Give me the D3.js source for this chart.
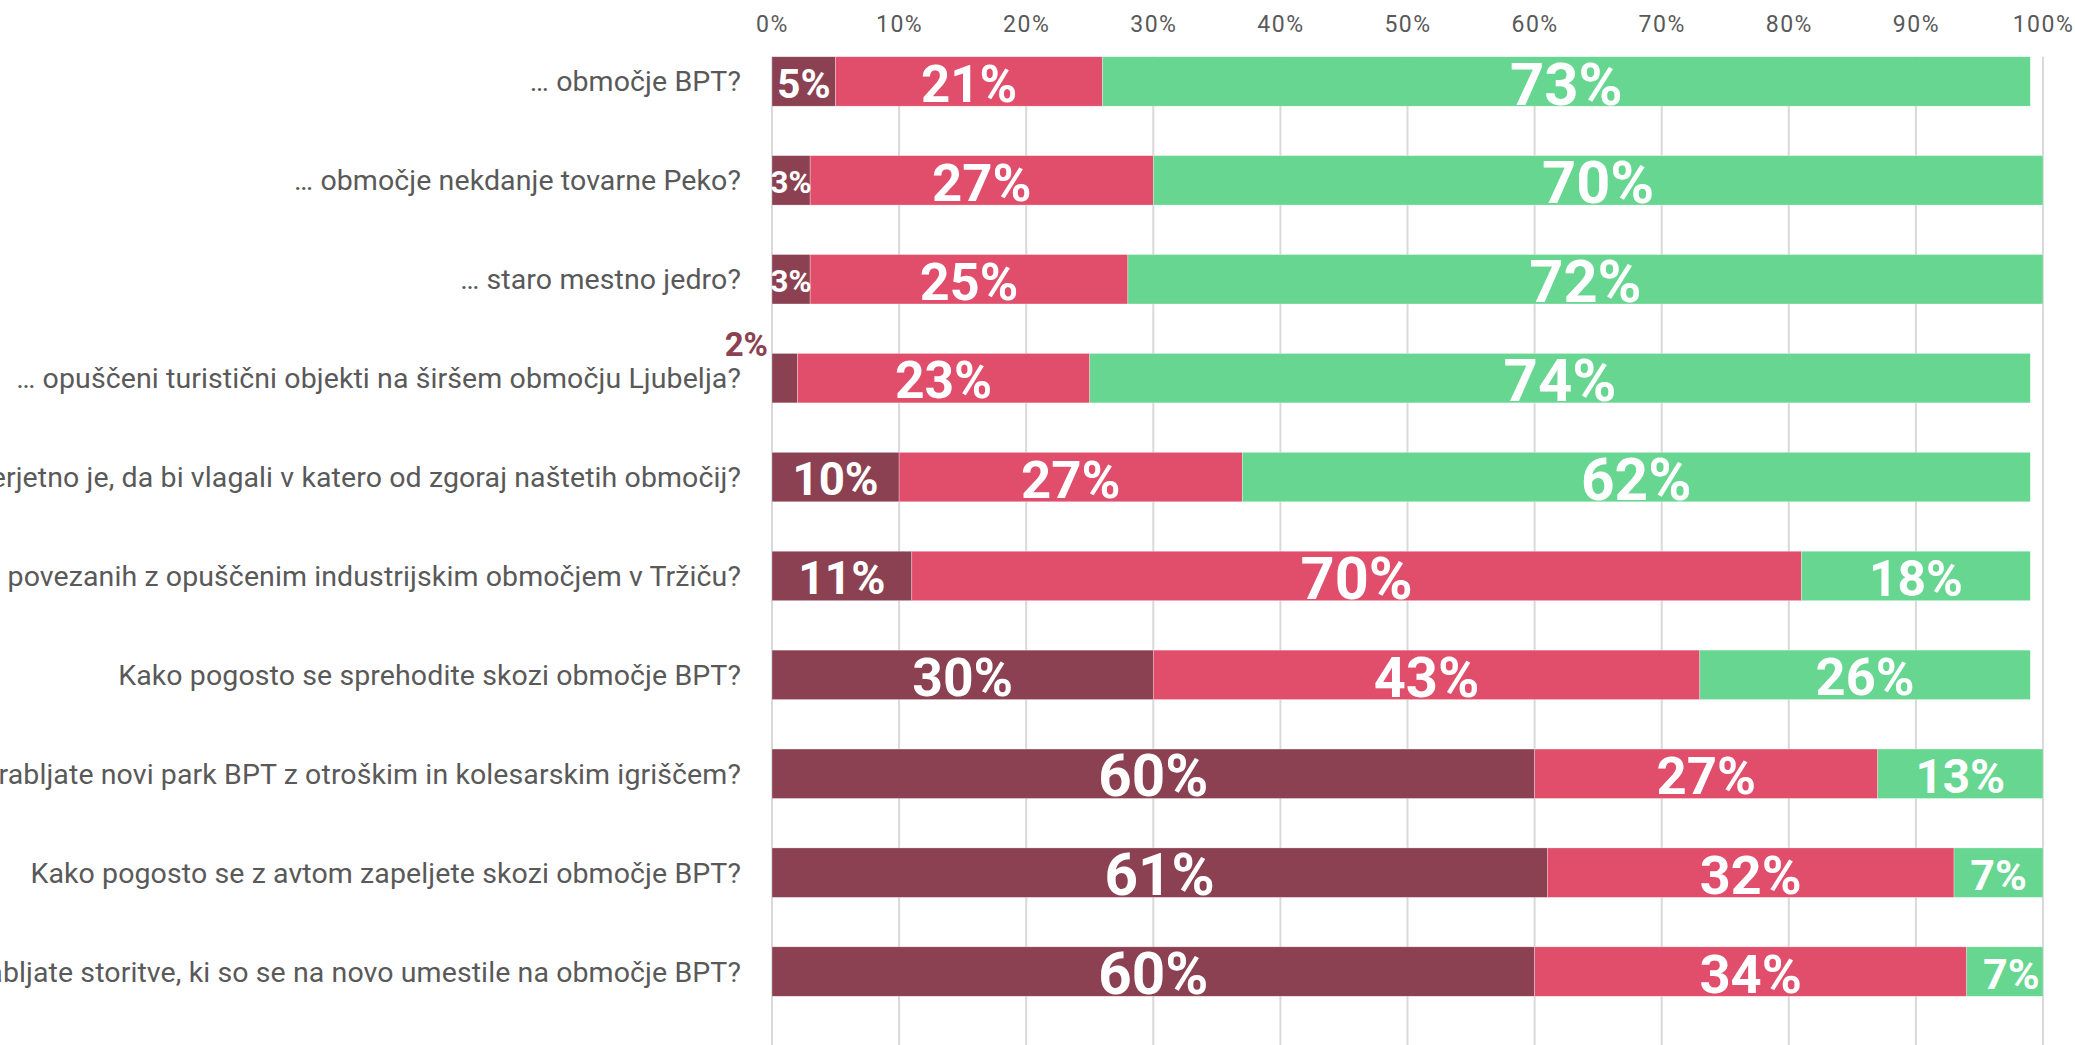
<!DOCTYPE html>
<html>
<head>
<meta charset="utf-8">
<script src="https://cdn.jsdelivr.net/npm/d3@7"></script>
<style>
  html, body { margin: 0; padding: 0; background: #ffffff; overflow: hidden; }
  svg { display: block; }
</style>
</head>
<body>
<svg id="chart"></svg>
<script>
// Survey questions (one bar per question)
const categories = [
  "… območje BPT?",
  "… območje nekdanje tovarne Peko?",
  "… staro mestno jedro?",
  "… opuščeni turistični objekti na širšem območju Ljubelja?",
  "Kako verjetno je, da bi vlagali v katero od zgoraj naštetih območij?",
  "Ali ste se udeležili katerega od dogodkov, povezanih z opuščenim industrijskim območjem v Tržiču?",
  "Kako pogosto se sprehodite skozi območje BPT?",
  "Kako pogosto uporabljate novi park BPT z otroškim in kolesarskim igriščem?",
  "Kako pogosto se z avtom zapeljete skozi območje BPT?",
  "Kako pogosto uporabljate storitve, ki so se na novo umestile na območje BPT?"
];

// Answer shares in percent, stacked left to right
const seriesKeys = ["first", "second", "third"];
const firstShare  = [5, 3, 3, 2, 10, 11, 30, 60, 61, 60];
const secondShare = [21, 27, 25, 23, 27, 70, 43, 27, 32, 34];
const thirdShare  = [73, 70, 72, 74, 62, 18, 26, 13, 7, 7];

// Axis ticks
const tickValues = [0, 10, 20, 30, 40, 50, 60, 70, 80, 90, 100];
const tickLabels = ["0%", "10%", "20%", "30%", "40%", "50%", "60%", "70%", "80%", "90%", "100%"];

const W = 2075, H = 1045;
const svg = d3.select("#chart").attr("width", W).attr("height", H);

const x = d3.scaleLinear().domain([0, 100]).range([772, 2043]).clamp(true);
const xFree = x.copy().clamp(false);
const y = d3.scaleBand().domain(categories).range([32, 1021]).paddingInner(0.5).paddingOuter(0.25);
const bw = y.bandwidth();

const color = d3.scaleOrdinal().domain(seriesKeys).range(["#8B4152", "#E04E6B", "#66D691"]);

const rows = categories.map((c, i) => ({
  category: c, first: firstShare[i], second: secondShare[i], third: thirdShare[i]
}));
const layers = d3.stack().keys(seriesKeys)(rows);

// Label size grows with the share (log scale), shrunk to fit narrow segments
const labelSize = d3.scaleLog().domain([5, 43]).range([40.8, 56]);
const CAP = 0.711;

const font = "Roboto, 'Noto Sans', sans-serif";

// Vertical gridlines
svg.append("g")
  .selectAll("line")
  .data(tickValues)
  .join("line")
  .attr("x1", d => x(d)).attr("x2", d => x(d))
  .attr("y1", y(categories[0])).attr("y2", H)
  .attr("stroke", "#D9D9D9")
  .attr("stroke-width", 2);

// Percent axis along the top
const axis = svg.append("g")
  .attr("transform", "translate(0,40)")
  .call(d3.axisTop(x).tickValues(tickValues).tickSize(0).tickPadding(8)
    .tickFormat((d, i) => tickLabels[i]));
axis.select(".domain").remove();
axis.selectAll("text")
  .attr("fill", "#595959")
  .style("font-family", font)
  .style("font-size", "23px")
  .style("letter-spacing", "1.5px");

// Question labels
svg.append("g")
  .selectAll("text")
  .data(categories)
  .join("text")
  .attr("x", 741)
  .attr("y", d => y(d) + bw / 2 + 10)
  .attr("text-anchor", "end")
  .attr("fill", "#595959")
  .style("font-family", font)
  .style("font-size", "28.5px")
  .style("letter-spacing", "0.1px")
  .text(d => d);

// Stacked bar segments
const layerG = svg.append("g")
  .selectAll("g")
  .data(layers)
  .join("g")
  .attr("fill", d => color(d.key));

layerG.selectAll("rect")
  .data(d => d)
  .join("rect")
  .attr("x", d => x(d[0]))
  .attr("y", d => y(d.data.category))
  .attr("width", d => Math.max(0, x(d[1]) - x(d[0])))
  .attr("height", bw)
  .attr("stroke", "#ffffff")
  .attr("stroke-width", 0.6)
  .attr("stroke-opacity", 0.5);

// Value labels
const labelG = svg.append("g");
layers.forEach(layer => {
  layer.forEach(d => {
    const v = d[1] - d[0];
    let fs = labelSize(v);
    const cy = y(d.data.category) + bw / 2;
    if (v <= 2) {
      // too narrow to hold its label: place it above, left of the bar
      labelG.append("text")
        .attr("x", x(d[0]) - 4)
        .attr("y", y(d.data.category) + 3)
        .attr("text-anchor", "end")
        .attr("fill", color(layer.key))
        .style("font-family", font)
        .style("font-weight", 700)
        .style("font-size", "33px")
        .text(v + "%");
    } else {
      const cx = (xFree(d[0]) + xFree(d[1])) / 2;
      const segW = xFree(d[1]) - xFree(d[0]);
      const t = labelG.append("text")
        .attr("x", cx)
        .attr("text-anchor", "middle")
        .attr("fill", "#ffffff")
        .style("font-family", font)
        .style("font-weight", 700)
        .style("font-size", fs + "px")
        .text(v + "%");
      const w = t.node().getComputedTextLength();
      if (w > segW + 3) {
        fs = fs * (segW + 3) / w;
        t.style("font-size", fs + "px");
      }
      t.attr("y", cy + 2 + fs * CAP / 2);
    }
  });
});
</script>
</body>
</html>
